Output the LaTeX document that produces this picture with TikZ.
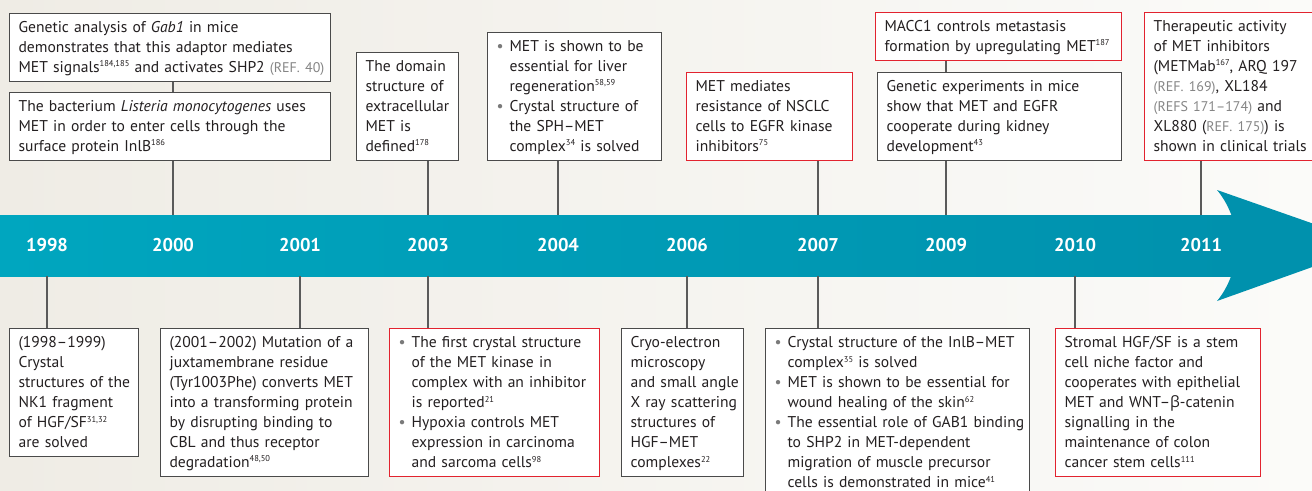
\documentclass[tikz,border=0pt]{standalone}
\usepackage{fontspec}
\setmainfont{PT Sans}
\newfontfamily\grk{Open Sans}
\usetikzlibrary{calc}
\definecolor{bgL}{HTML}{EFECE5}
\definecolor{bgR}{HTML}{FBFBF9}
\definecolor{barL}{HTML}{00A6BF}
\definecolor{barR}{HTML}{0091AD}
\definecolor{headc}{HTML}{0091AD}
\definecolor{txt}{HTML}{231F20}
\definecolor{refg}{HTML}{858585}
\definecolor{bulg}{HTML}{7A7A7A}
\definecolor{frm}{HTML}{4A4A4A}
\definecolor{frmred}{HTML}{E2232F}
\definecolor{conn}{HTML}{5A5A5A}
\newcommand\Ln[1]{\mbox{\rule[-3pt]{0pt}{16pt}#1}}
\newcommand\Bu[1]{\Ln{\makebox[13pt][l]{\textcolor{bulg}{•}}#1}}
\newcommand\In[1]{\Ln{\hspace*{13pt}#1}}
\newcommand\rf[1]{\raisebox{5.5pt}{\fontsize{8.5}{8.5}\selectfont #1}}
\newcommand\rg[1]{{\color{refg}\fontsize{14}{14}\selectfont #1}}
\tikzset{
  box/.style={draw=frm, line width=1.2pt, fill=white, inner xsep=9pt, inner ysep=0pt,
    align=left, text=txt, font=\fontsize{15.6}{20}\selectfont},
  rbox/.style={box, draw=frmred},
  yr/.style={text=white, font=\bfseries\fontsize{18.5}{18.5}\selectfont, inner sep=0pt},
  cn/.style={draw=conn, line width=1.1pt},
}
\begin{document}
\begin{tikzpicture}[x=1pt, y=-1pt]
\useasboundingbox (0,0) rectangle (1312,490);
\clip (0,0) rectangle (1312,490);
\fill[left color=bgL, right color=bgR] (0,0) rectangle (1312,490);
% timeline bar
\node[inner sep=0pt, minimum width=1242pt, minimum height=61pt, anchor=north west,
  left color=barL, right color=barR] (bar) at (-1,215) {};
\fill[headc] (1217,190) .. controls (1228,203) and (1236,222) .. (1238,245)
  .. controls (1236,268) and (1228,288) .. (1217,301) -- (1374,245) -- cycle;
% years
\node[yr] (y1998) at (47,245) {1998};
\node[yr] (y2000) at (173,245) {2000};
\node[yr] (y2001) at (300,245) {2001};
\node[yr] (y2003) at (428,245) {2003};
\node[yr] (y2004) at (558,245) {2004};
\node[yr] (y2006) at (687,245) {2006};
\node[yr] (y2007) at (818,245) {2007};
\node[yr] (y2009) at (946,245) {2009};
\node[yr] (y2010) at (1075,245) {2010};
\node[yr] (y2011) at (1201,245) {2011};
% top boxes
\node[box, text width=303pt, minimum height=68pt, anchor=north west] (A) at (9,13)
  {\Ln{Genetic analysis of \textit{Gab1} in mice}\\
   \Ln{demonstrates that this adaptor mediates}\\
   \Ln{MET signals\rf{184,185} and activates SHP2 \rg{(REF. 40)}}};
\node[box, text width=303pt, minimum height=68pt, anchor=south west] (B) at (9,161)
  {\Ln{The bacterium \textit{Listeria monocytogenes} uses}\\
   \Ln{MET in order to enter cells through the}\\
   \Ln{surface protein InlB\rf{186}}};
\node[box, text width=84pt, minimum height=108pt, anchor=south west] (C) at (356,161)
  {\Ln{The domain}\\ \Ln{structure of}\\ \Ln{extracellular}\\ \Ln{MET is}\\ \Ln{defined\rf{178}}};
\node[box, text width=156pt, minimum height=128pt, anchor=south west] (D) at (487,161)
  {\Bu{MET is shown to be}\\ \In{essential for liver}\\ \In{regeneration\rf{58,59}}\\
   \Bu{Crystal structure of}\\ \In{the SPH–MET}\\ \In{complex\rf{34} is solved}};
\node[rbox, text width=148pt, minimum height=88pt, anchor=south west] (E) at (686,161)
  {\Ln{MET mediates}\\ \Ln{resistance of NSCLC}\\ \Ln{cells to EGFR kinase}\\ \Ln{inhibitors\rf{75}}};
\node[rbox, text width=228pt, minimum height=48pt, anchor=north west] (F) at (875,12)
  {\Ln{MACC1 controls metastasis}\\ \Ln{formation by upregulating MET\rf{187}}};
\node[box, text width=226pt, minimum height=88pt, anchor=south west] (G) at (877,161)
  {\Ln{Genetic experiments in mice}\\ \Ln{show that MET and EGFR}\\ \Ln{cooperate during kidney}\\ \Ln{development\rf{43}}};
\node[rbox, text width=158pt, minimum height=148pt, anchor=south west] (H) at (1144,161)
  {\Ln{Therapeutic activity}\\ \Ln{of MET inhibitors}\\ \Ln{(METMab\rf{167}, ARQ 197}\\
   \Ln{\rg{(REF. 169)}, XL184}\\ \Ln{\rg{(REFS 171–174)} and}\\ \Ln{XL880 (\rg{REF. 175)}) is}\\
   \Ln{shown in clinical trials}};
% bottom boxes
\node[box, text width=111pt, minimum height=128pt, anchor=north west] (A2) at (9,328)
  {\Ln{(1998–1999)}\\ \Ln{Crystal}\\ \Ln{structures of the}\\ \Ln{NK1 fragment}\\
   \Ln{of HGF/SF\rf{31,32}}\\ \Ln{are solved}};
\node[box, text width=190pt, minimum height=148pt, anchor=north west] (B2) at (160,328)
  {\Ln{(2001–2002) Mutation of a}\\ \Ln{juxtamembrane residue}\\ \Ln{(Tyr1003Phe) converts MET}\\
   \Ln{into a transforming protein}\\ \Ln{by disrupting binding to}\\ \Ln{CBL and thus receptor}\\
   \Ln{degradation\rf{48,50}}};
\node[rbox, text width=192pt, minimum height=148pt, anchor=north west] (C2) at (389,328)
  {\Bu{The first crystal structure}\\ \In{of the MET kinase in}\\ \In{complex with an inhibitor}\\
   \In{is reported\rf{21}}\\ \Bu{Hypoxia controls MET}\\ \In{expression in carcinoma}\\
   \In{and sarcoma cells\rf{98}}};
\node[box, text width=104pt, minimum height=148pt, anchor=north west] (D2) at (621,328)
  {\Ln{Cryo-electron}\\ \Ln{microscopy}\\ \Ln{and small angle}\\ \Ln{X ray scattering}\\
   \Ln{structures of}\\ \Ln{HGF–MET}\\ \Ln{complexes\rf{22}}};
\node[box, text width=246pt, minimum height=168pt, anchor=north west] (E2) at (765,328)
  {\Bu{Crystal structure of the InlB–MET}\\ \In{complex\rf{35} is solved}\\
   \Bu{MET is shown to be essential for}\\ \In{wound healing of the skin\rf{62}}\\
   \Bu{The essential role of GAB1 binding}\\ \In{to SHP2 in MET-dependent}\\
   \In{migration of muscle precursor}\\ \In{cells is demonstrated in mice\rf{41}}};
\node[rbox, text width=187pt, minimum height=148pt, anchor=north west] (F2) at (1055,328)
  {\Ln{Stromal HGF/SF is a stem}\\ \Ln{cell niche factor and}\\ \Ln{cooperates with epithelial}\\
   \Ln{MET and WNT–{\grk β}-catenin}\\ \Ln{signalling in the}\\ \Ln{maintenance of colon}\\
   \Ln{cancer stem cells\rf{111}}};
% connectors
\draw[cn] (A.south -| y2000) -- (B.north -| y2000);
\draw[cn] (B.south -| y2000) -- (y2000 |- bar.north);
\draw[cn] (C.south -| y2003) -- (y2003 |- bar.north);
\draw[cn] (D.south -| y2004) -- (y2004 |- bar.north);
\draw[cn] (E.south -| y2007) -- (y2007 |- bar.north);
\draw[cn] (F.south -| y2009) -- (G.north -| y2009);
\draw[cn] (G.south -| y2009) -- (y2009 |- bar.north);
\draw[cn] (H.south -| y2011) -- (y2011 |- bar.north);
\draw[cn] (y1998 |- bar.south) -- (A2.north -| y1998);
\draw[cn] (y2001 |- bar.south) -- (B2.north -| y2001);
\draw[cn] (y2003 |- bar.south) -- (C2.north -| y2003);
\draw[cn] (y2006 |- bar.south) -- (D2.north -| y2006);
\draw[cn] (y2007 |- bar.south) -- (E2.north -| y2007);
\draw[cn] (y2010 |- bar.south) -- (F2.north -| y2010);
\end{tikzpicture}
\end{document}
